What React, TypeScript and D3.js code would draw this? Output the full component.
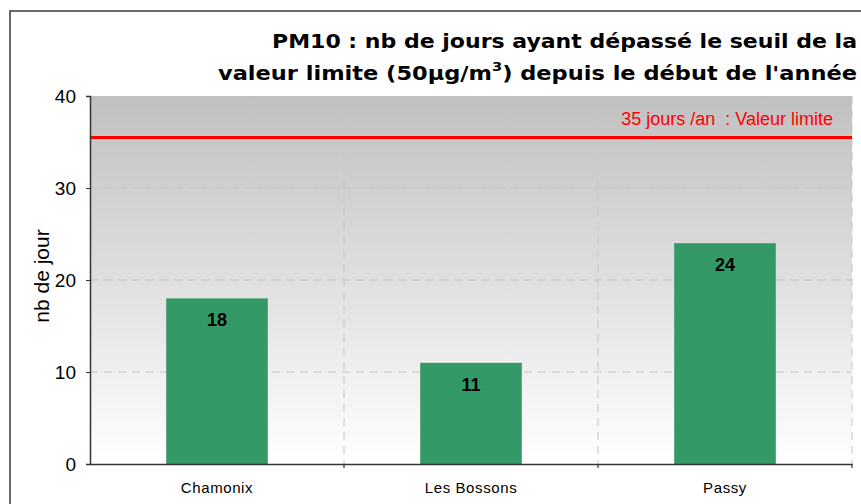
import * as d3 from "d3";
import React from "react";

const categories = ["Chamonix", "Les Bossons", "Passy"];
const jours = [18, 11, 24];
const yTicks = [0, 10, 20, 30, 40];
const limitValue = 35.5;
const limitLabel = "35 jours /an  : Valeur limite";
const titleLine1 = "PM10 : nb de jours ayant dépassé le seuil de la";
const titleLine2a = "valeur limite (50µg/m";
const titleLine2b = "3";
const titleLine2c = ") depuis le début de l'année";
const yTitle = "nb de jour";

export default function App() {
	const svgRef = React.useRef<SVGSVGElement>(null);

	React.useEffect(() => {
		if (!svgRef.current) return;
		const width = 861;
		const height = 504;
		const plot = { left: 90, right: 852, top: 96, bottom: 464 };

		const svg = d3.select(svgRef.current).attr("width", width).attr("height", height);
		svg.selectAll("*").remove();

		const x = d3
			.scaleBand<string>()
			.domain(categories)
			.range([plot.left, plot.right])
			.padding(0);
		const y = d3.scaleLinear().domain([0, 40]).range([plot.bottom, plot.top]);

		// background
		svg.append("rect").attr("width", width).attr("height", height).attr("fill", "#ffffff");

		// outer frame (extends past the page on the right/bottom)
		svg
			.append("rect")
			.attr("x", 10)
			.attr("y", 11)
			.attr("width", width + 20)
			.attr("height", height + 20)
			.attr("fill", "none")
			.attr("stroke", "#3a3a3a")
			.attr("stroke-width", 1.5);

		// plot area gradient
		const defs = svg.append("defs");
		const grad = defs
			.append("linearGradient")
			.attr("id", "plotGrad")
			.attr("x1", 0)
			.attr("y1", 0)
			.attr("x2", 0)
			.attr("y2", 1);
		grad.append("stop").attr("offset", "0%").attr("stop-color", "#c0c0c0");
		grad.append("stop").attr("offset", "100%").attr("stop-color", "#ffffff");

		svg
			.append("rect")
			.attr("x", plot.left)
			.attr("y", plot.top)
			.attr("width", plot.right - plot.left)
			.attr("height", plot.bottom - plot.top)
			.attr("fill", "url(#plotGrad)");

		// horizontal gridlines
		svg
			.append("g")
			.selectAll("line")
			.data(yTicks.filter((t) => t > 0 && t < 40))
			.join("line")
			.attr("x1", plot.left)
			.attr("x2", plot.right)
			.attr("y1", (d) => y(d))
			.attr("y2", (d) => y(d))
			.attr("stroke", "#c4c4c4")
			.attr("stroke-width", 1)
			.attr("stroke-dasharray", "8,6");

		// vertical gridlines at category boundaries
		const bounds = categories.map((c) => (x(c) as number) + x.bandwidth());
		svg
			.append("g")
			.selectAll("line")
			.data(bounds)
			.join("line")
			.attr("x1", (d) => d)
			.attr("x2", (d) => d)
			.attr("y1", plot.top)
			.attr("y2", plot.bottom)
			.attr("stroke", "#c4c4c4")
			.attr("stroke-width", 1)
			.attr("stroke-dasharray", "8,6");

		// bars
		const barW = x.bandwidth() * 0.4;
		svg
			.append("g")
			.selectAll("rect")
			.data(jours)
			.join("rect")
			.attr("x", (_, i) => (x(categories[i]) as number) + (x.bandwidth() - barW) / 2)
			.attr("y", (d) => y(d))
			.attr("width", barW)
			.attr("height", (d) => y(0) - y(d))
			.attr("fill", "#339966");

		// bar value labels
		svg
			.append("g")
			.selectAll("text")
			.data(jours)
			.join("text")
			.attr("x", (_, i) => (x(categories[i]) as number) + x.bandwidth() / 2)
			.attr("y", (d) => y(d) + 28)
			.attr("text-anchor", "middle")
			.attr("font-family", "Liberation Sans, Arial, sans-serif")
			.attr("font-weight", "bold")
			.attr("font-size", 18)
			.attr("fill", "#000")
			.text((d) => String(d));

		// limit line
		svg
			.append("line")
			.attr("x1", plot.left + 1)
			.attr("x2", plot.right)
			.attr("y1", y(limitValue))
			.attr("y2", y(limitValue))
			.attr("stroke", "#ff0000")
			.attr("stroke-width", 3);

		svg
			.append("text")
			.attr("x", 833)
			.attr("y", y(limitValue) - 12)
			.attr("text-anchor", "end")
			.attr("font-family", "Liberation Sans, Arial, sans-serif")
			.attr("font-size", 18)
			.attr("fill", "#ff0000")
			.attr("xml:space", "preserve")
			.style("white-space", "pre")
			.text(limitLabel);

		// y axis
		const yAxis = svg
			.append("g")
			.attr("transform", `translate(${plot.left},0)`)
			.call(d3.axisLeft(y).tickValues(yTicks).tickSize(4).tickPadding(10));
		yAxis.select(".domain").attr("stroke", "#333").attr("stroke-width", 1.5);
		yAxis.selectAll(".tick line").attr("stroke", "#333");
		yAxis
			.selectAll(".tick text")
			.attr("font-family", "Liberation Sans, Arial, sans-serif")
			.attr("font-size", 19)
			.attr("fill", "#000");

		// x axis
		const xAxis = svg
			.append("g")
			.attr("transform", `translate(0,${plot.bottom})`)
			.call(d3.axisBottom(x).tickSize(0).tickPadding(0).tickSizeOuter(0));
		xAxis.select(".domain").attr("stroke", "#333").attr("stroke-width", 1.5);
		xAxis
			.selectAll(".tick text")
			.attr("y", 29)
			.attr("dy", 0)
			.attr("font-family", "Liberation Sans, Arial, sans-serif")
			.attr("font-size", 15)
			.attr("letter-spacing", 0.6)
			.attr("fill", "#000");
		svg
			.append("g")
			.selectAll("line")
			.data(bounds)
			.join("line")
			.attr("x1", (d) => d)
			.attr("x2", (d) => d)
			.attr("y1", plot.bottom)
			.attr("y2", plot.bottom + 4)
			.attr("stroke", "#333")
			.attr("stroke-width", 1.2);

		// y axis title
		svg
			.append("text")
			.attr("transform", `translate(49,${(plot.top + plot.bottom) / 2 - 4}) rotate(-90)`)
			.attr("text-anchor", "middle")
			.attr("font-family", "Liberation Sans, Arial, sans-serif")
			.attr("font-size", 21)
			.attr("fill", "#000")
			.text(yTitle);

		// title
		const titleFont = "'DejaVu Sans Condensed', 'DejaVu Sans', sans-serif";
		svg
			.append("text")
			.attr("x", 857)
			.attr("y", 48)
			.attr("text-anchor", "end")
			.attr("font-family", titleFont)
			.attr("font-stretch", "condensed")
			.attr("font-weight", "bold")
			.attr("font-size", 20)
			.attr("textLength", 585)
			.attr("lengthAdjust", "spacingAndGlyphs")
			.text(titleLine1);

		const t2 = svg
			.append("text")
			.attr("x", 857)
			.attr("y", 80)
			.attr("text-anchor", "end")
			.attr("font-family", titleFont)
			.attr("font-stretch", "condensed")
			.attr("font-weight", "bold")
			.attr("font-size", 20)
			.attr("textLength", 639)
			.attr("lengthAdjust", "spacingAndGlyphs");
		t2.append("tspan").text(titleLine2a);
		t2.append("tspan").attr("dy", -9).attr("font-size", 13).text(titleLine2b);
		t2.append("tspan").attr("dy", 9).text(titleLine2c);
	}, []);

	return <svg ref={svgRef} style={{ position: "absolute", left: 0, top: 0, display: "block" }} />;
}
